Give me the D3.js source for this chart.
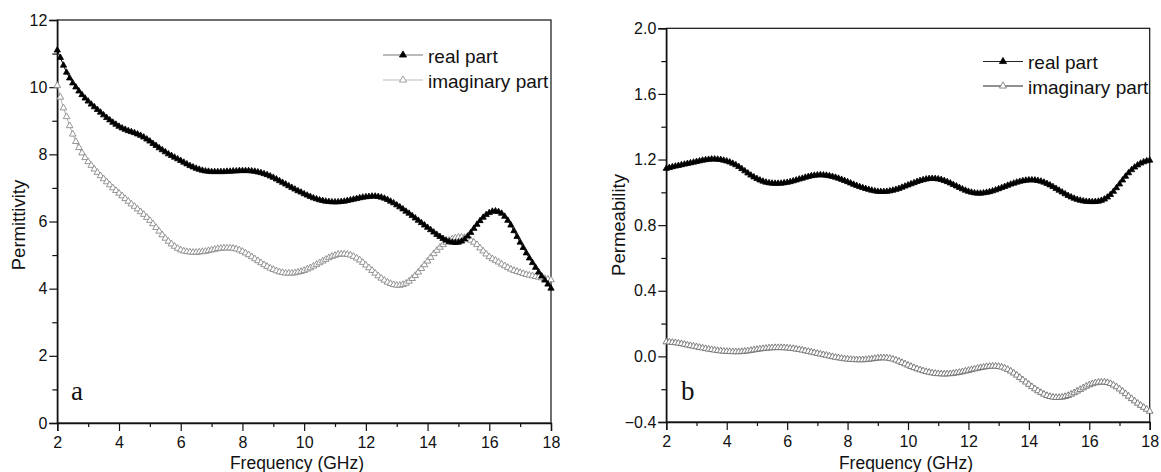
<!DOCTYPE html>
<html>
<head>
<meta charset="utf-8">
<script src="https://cdn.jsdelivr.net/npm/d3@7"></script>
<style>
  html, body { margin: 0; padding: 0; background: #fff; }
  svg { display: block; }
  text { font-family: "Liberation Sans", Arial, sans-serif; fill: #111; }
</style>
</head>
<body>
<svg id="chart" width="1161" height="472"></svg>
<script>
// ---------- DATA (frequency grid 2–18 GHz, step 0.1) ----------
const freqStart = 2, freqStep = 0.1;

const permittivityReal = [
11.10,10.88,10.65,10.44,10.27,10.12,10.00,9.88,9.77,9.67,
9.58,9.49,9.41,9.33,9.25,9.17,9.09,9.02,8.95,8.89,
8.83,8.78,8.74,8.70,8.67,8.64,8.60,8.56,8.51,8.45,
8.39,8.32,8.26,8.19,8.13,8.07,8.01,7.96,7.91,7.86,
7.81,7.76,7.71,7.66,7.62,7.58,7.55,7.52,7.50,7.49,
7.48,7.48,7.48,7.48,7.48,7.49,7.49,7.50,7.50,7.51,
7.51,7.51,7.51,7.50,7.49,7.47,7.45,7.42,7.39,7.35,
7.31,7.26,7.21,7.16,7.11,7.06,7.01,6.96,6.91,6.87,
6.82,6.78,6.74,6.70,6.67,6.64,6.62,6.60,6.59,6.58,
6.58,6.58,6.59,6.60,6.62,6.64,6.66,6.68,6.70,6.72,
6.73,6.74,6.75,6.75,6.74,6.72,6.69,6.65,6.60,6.55,
6.49,6.43,6.37,6.30,6.24,6.17,6.10,6.03,5.96,5.89,
5.82,5.75,5.68,5.61,5.55,5.49,5.44,5.40,5.38,5.37,
5.38,5.41,5.47,5.56,5.67,5.79,5.91,6.02,6.12,6.20,
6.26,6.30,6.31,6.29,6.24,6.15,6.03,5.89,5.72,5.55,
5.38,5.22,5.06,4.91,4.77,4.63,4.49,4.37,4.25,4.13,
4.01];

const permittivityImag = [
10.05,9.70,9.38,9.12,8.85,8.60,8.38,8.20,8.04,7.90,
7.78,7.67,7.56,7.46,7.36,7.27,7.18,7.09,7.00,6.92,
6.84,6.76,6.68,6.60,6.52,6.45,6.37,6.29,6.21,6.12,
6.03,5.93,5.82,5.71,5.60,5.50,5.41,5.33,5.26,5.20,
5.15,5.12,5.10,5.09,5.08,5.08,5.09,5.10,5.11,5.13,
5.15,5.17,5.19,5.20,5.21,5.21,5.21,5.20,5.18,5.15,
5.11,5.06,5.01,4.95,4.89,4.83,4.77,4.71,4.66,4.61,
4.57,4.53,4.50,4.48,4.46,4.46,4.46,4.47,4.49,4.51,
4.54,4.58,4.62,4.67,4.72,4.77,4.82,4.87,4.92,4.96,
4.99,5.02,5.03,5.03,5.02,5.00,4.96,4.91,4.85,4.78,
4.70,4.62,4.54,4.46,4.38,4.31,4.25,4.19,4.15,4.12,
4.10,4.10,4.12,4.16,4.22,4.30,4.39,4.49,4.60,4.71,
4.82,4.93,5.04,5.14,5.23,5.31,5.38,5.44,5.48,5.51,
5.53,5.53,5.52,5.49,5.44,5.38,5.31,5.21,5.12,5.03,
4.95,4.89,4.84,4.79,4.73,4.68,4.63,4.58,4.54,4.51,
4.48,4.45,4.42,4.40,4.38,4.36,4.34,4.32,4.30,4.28,
4.26];

const permeabilityReal = [
1.145,1.150,1.155,1.159,1.163,1.167,1.171,1.175,1.179,1.183,
1.187,1.191,1.195,1.198,1.200,1.202,1.202,1.201,1.199,1.195,
1.190,1.184,1.176,1.167,1.156,1.143,1.130,1.117,1.104,1.093,
1.083,1.074,1.067,1.061,1.057,1.055,1.054,1.054,1.055,1.057,
1.060,1.064,1.069,1.074,1.080,1.085,1.091,1.096,1.100,1.103,
1.105,1.106,1.105,1.103,1.100,1.096,1.091,1.085,1.078,1.071,
1.064,1.056,1.048,1.041,1.034,1.028,1.022,1.017,1.012,1.008,
1.005,1.004,1.004,1.005,1.008,1.012,1.017,1.023,1.030,1.037,
1.044,1.051,1.058,1.065,1.071,1.076,1.080,1.083,1.084,1.083,
1.081,1.077,1.071,1.064,1.056,1.047,1.038,1.029,1.020,1.012,
1.005,1.000,0.996,0.994,0.994,0.996,0.999,1.003,1.008,1.014,
1.021,1.028,1.035,1.042,1.049,1.055,1.061,1.066,1.070,1.073,
1.075,1.075,1.074,1.071,1.067,1.061,1.053,1.044,1.034,1.023,
1.012,1.001,0.990,0.980,0.971,0.963,0.956,0.951,0.947,0.944,
0.943,0.942,0.943,0.945,0.950,0.958,0.970,0.986,1.005,1.027,
1.050,1.074,1.097,1.118,1.137,1.153,1.166,1.177,1.185,1.191,
1.195];

const permeabilityImag = [
0.088,0.087,0.085,0.083,0.080,0.077,0.073,0.069,0.065,0.062,
0.058,0.054,0.051,0.047,0.044,0.041,0.038,0.035,0.033,0.031,
0.030,0.029,0.028,0.028,0.028,0.029,0.031,0.033,0.036,0.039,
0.042,0.045,0.047,0.049,0.051,0.052,0.053,0.053,0.053,0.052,
0.051,0.049,0.047,0.044,0.041,0.038,0.034,0.030,0.026,0.022,
0.018,0.014,0.010,0.006,0.002,-0.002,-0.006,-0.009,-0.012,-0.015,
-0.017,-0.019,-0.020,-0.021,-0.021,-0.021,-0.020,-0.018,-0.016,-0.013,
-0.011,-0.009,-0.009,-0.010,-0.013,-0.017,-0.023,-0.030,-0.038,-0.046,
-0.054,-0.062,-0.069,-0.076,-0.082,-0.088,-0.093,-0.097,-0.101,-0.104,
-0.106,-0.107,-0.108,-0.107,-0.106,-0.104,-0.101,-0.098,-0.094,-0.090,
-0.086,-0.081,-0.077,-0.073,-0.069,-0.066,-0.063,-0.061,-0.060,-0.060,
-0.062,-0.066,-0.072,-0.080,-0.090,-0.102,-0.115,-0.129,-0.143,-0.157,
-0.171,-0.185,-0.198,-0.210,-0.221,-0.231,-0.239,-0.245,-0.249,-0.251,
-0.251,-0.249,-0.245,-0.239,-0.231,-0.222,-0.212,-0.202,-0.192,-0.182,
-0.174,-0.167,-0.162,-0.158,-0.157,-0.157,-0.160,-0.166,-0.175,-0.186,
-0.199,-0.213,-0.228,-0.243,-0.258,-0.272,-0.286,-0.299,-0.311,-0.323,
-0.335];

const xTicks = [2, 4, 6, 8, 10, 12, 14, 16, 18];
const xMinorTicks = [3, 5, 7, 9, 11, 13, 15, 17];
const yTicksA = [0, 2, 4, 6, 8, 10, 12];
const yMinorTicksA = [1, 3, 5, 7, 9, 11];
const yTicksB = [-0.4, 0.0, 0.4, 0.8, 1.2, 1.6, 2.0];
const yMinorTicksB = [-0.2, 0.2, 0.6, 1.0, 1.4, 1.8];
const legendLabels = ["real part", "imaginary part"];

// ---------- DRAWING ----------
const svg = d3.select("#chart");
const freqOf = i => Math.round((freqStart + i * freqStep) * 10) / 10;

function panel(cfg) {
  const x = d3.scaleLinear().domain([2, 18]).range([cfg.x0, cfg.x1]);
  const y = d3.scaleLinear().domain(cfg.yDomain).range([cfg.y0, cfg.y1]);
  const g = svg.append("g");

  // frame
  g.append("rect")
    .attr("x", cfg.x0).attr("y", cfg.y1)
    .attr("width", cfg.x1 - cfg.x0).attr("height", cfg.y0 - cfg.y1)
    .attr("fill", "none").attr("stroke", "#111").attr("stroke-width", 1.2);

  // x axis
  const xa = g.append("g").attr("transform", `translate(0,${cfg.y0})`)
    .call(d3.axisBottom(x).tickValues(xTicks).tickSize(8).tickPadding(4).tickFormat(d3.format("d")));
  g.append("g").attr("transform", `translate(0,${cfg.y0})`)
    .call(d3.axisBottom(x).tickValues(xMinorTicks).tickSize(4).tickFormat(""))
    .select(".domain").remove();
  // y axis
  g.append("g").attr("transform", `translate(${cfg.x0},0)`)
    .call(d3.axisLeft(y).tickValues(cfg.yTicks).tickSize(8).tickPadding(2).tickFormat(cfg.yFormat));
  g.append("g").attr("transform", `translate(${cfg.x0},0)`)
    .call(d3.axisLeft(y).tickValues(cfg.yMinor).tickSize(5).tickFormat(""))
    .select(".domain").remove();

  g.selectAll(".tick line").attr("stroke", "#111").attr("stroke-width", 1.2);
  g.selectAll(".domain").attr("stroke", "#111").attr("stroke-width", 1.4);
  g.selectAll(".tick text").style("font-size", "16px").attr("fill", "#111")
    .style("font-family", "'Liberation Sans', Arial, sans-serif");
  xa.selectAll(".tick text").attr("dy", "0.8em");

  // axis titles
  g.append("text")
    .attr("x", cfg.xTitleX).attr("y", 469)
    .attr("text-anchor", "middle").style("font-size", "17.5px")
    .text("Frequency (GHz)");
  g.append("text")
    .attr("transform", `translate(${cfg.yTitleX},${cfg.yTitleY}) rotate(-90)`)
    .attr("text-anchor", "middle").style("font-size", "18.5px")
    .text(cfg.yTitle);

  // panel letter
  g.append("text")
    .attr("x", cfg.letterX).attr("y", 400)
    .style("font-family", "'Liberation Serif', 'Times New Roman', serif")
    .style("font-size", "27px").text(cfg.letter);

  const triReal = d3.symbol().type(d3.symbolTriangle).size(17);
  const triImag = d3.symbol().type(d3.symbolTriangle).size(19);
  const line = d3.line().x((d, i) => x(freqOf(i))).y(d => y(d));

  // series lines (underneath markers)
  g.append("path").datum(cfg.imag).attr("d", line)
    .attr("fill", "none").attr("stroke", cfg.imagLine).attr("stroke-width", 1);
  g.append("path").datum(cfg.real).attr("d", line)
    .attr("fill", "none").attr("stroke", "#000").attr("stroke-width", 1);

  // imaginary markers (open triangles)
  g.append("g").selectAll("path").data(cfg.imag).join("path")
    .attr("d", triImag)
    .attr("transform", (d, i) => `translate(${x(freqOf(i))},${y(d)})`)
    .attr("fill", "#fff").attr("stroke", cfg.imagStroke).attr("stroke-width", 0.9);
  // real markers (filled triangles)
  g.append("g").selectAll("path").data(cfg.real).join("path")
    .attr("d", triReal)
    .attr("transform", (d, i) => `translate(${x(freqOf(i))},${y(d)})`)
    .attr("fill", "#000").attr("stroke", "#000").attr("stroke-width", 0.8);

  // legend
  const lg = g.append("g");
  const legTri = d3.symbol().type(d3.symbolTriangle).size(22);
  legendLabels.forEach((lab, k) => {
    const ly = cfg.legY + k * cfg.legGap;
    lg.append("line")
      .attr("x1", cfg.legX0).attr("x2", cfg.legX0 + 40)
      .attr("y1", ly).attr("y2", ly)
      .attr("stroke", k === 0 ? cfg.legRealLine : cfg.legImagLine).attr("stroke-width", 1);
    lg.append("path").attr("d", legTri)
      .attr("transform", `translate(${cfg.legX0 + 20},${ly})`)
      .attr("fill", k === 0 ? "#000" : "#fff")
      .attr("stroke", k === 0 ? "#000" : cfg.imagStroke).attr("stroke-width", 0.8);
    lg.append("text")
      .attr("x", cfg.legX0 + 45).attr("y", ly + 7.5)
      .style("font-size", "19px").text(lab);
  });
}

panel({
  x0: 57.3, x1: 551, y0: 423, y1: 20, yDomain: [0, 12],
  yTicks: yTicksA, yMinor: yMinorTicksA, yFormat: d3.format("d"),
  real: permittivityReal, imag: permittivityImag,
  yTitle: "Permittivity", yTitleX: 25, yTitleY: 225, xTitleX: 297,
  letter: "a", letterX: 71,
  imagStroke: "#8a8a8a", imagLine: "#b0b0b0",
  legX0: 383, legY: 55, legGap: 25, legRealLine: "#777", legImagLine: "#bbb"
});

panel({
  x0: 666.3, x1: 1149.7, y0: 422, y1: 28.3, yDomain: [-0.4, 2.0],
  yTicks: yTicksB, yMinor: yMinorTicksB, yFormat: d3.format(".1f"),
  real: permeabilityReal, imag: permeabilityImag,
  yTitle: "Permeability", yTitleX: 625, yTitleY: 225, xTitleX: 906,
  letter: "b", letterX: 681,
  imagStroke: "#707070", imagLine: "#333",
  legX0: 983, legY: 61.5, legGap: 24.5, legRealLine: "#222", legImagLine: "#222"
});
</script>
</body>
</html>
